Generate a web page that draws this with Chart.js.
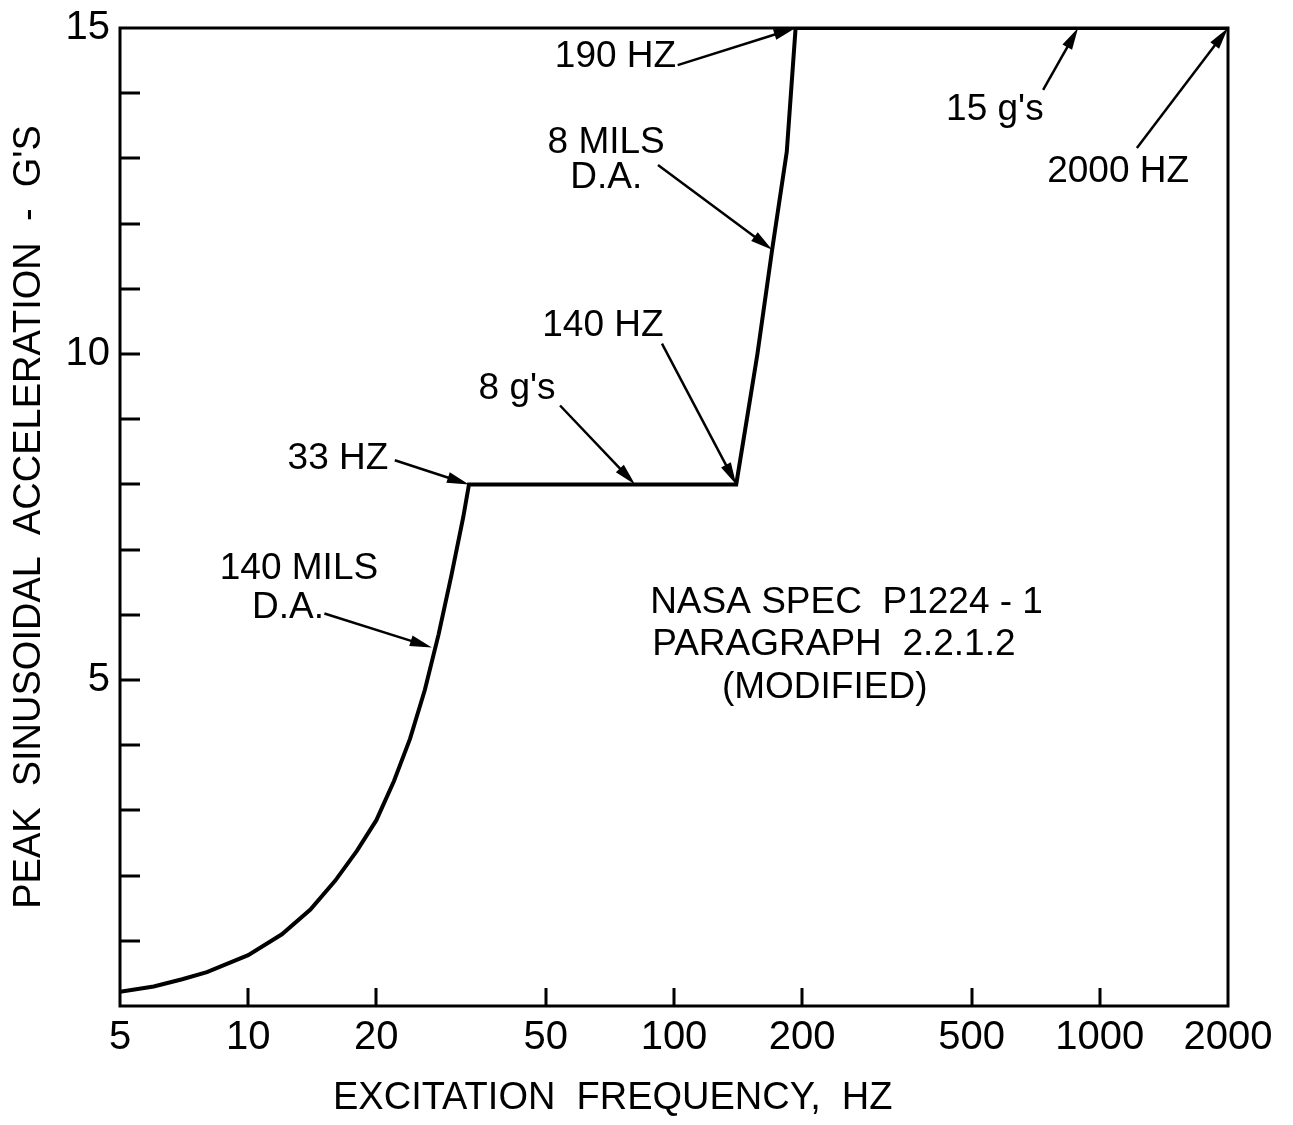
<!DOCTYPE html>
<html>
<head>
<meta charset="utf-8">
<script src="https://cdn.jsdelivr.net/npm/chart.js@4.4.1/dist/chart.umd.min.js"></script>
<style>
html,body{margin:0;padding:0;background:#fff;}
#wrap{width:1293px;height:1125px;position:relative;}
</style>
</head>
<body>
<div id="wrap"><canvas id="c"></canvas></div>
<script>
// ---- data ----
const freqHz  = [5, 6, 7, 8, 10, 12, 14, 16, 18, 20, 22, 24, 26, 28, 30, 32, 33, 140, 150, 157, 170, 184, 193, 2000];
const accelG  = [0.22, 0.30, 0.41, 0.52, 0.78, 1.10, 1.48, 1.92, 2.38, 2.85, 3.45, 4.10, 4.85, 5.70, 6.60, 7.50, 8.0, 8.0, 9.2, 10.0, 11.6, 13.1, 15.0, 15.0];
const xTickValues = [5, 10, 20, 50, 100, 200, 500, 1000, 2000];
const yTickValues = [1, 2, 3, 4, 5, 6, 7, 8, 9, 10, 11, 12, 13, 14];
const yLabelValues = [5, 10, 15];
const xTitle = 'EXCITATION  FREQUENCY,  HZ';
const yTitle = "PEAK  SINUSOIDAL  ACCELERATION  -  G'S";

// annotation texts (anchor in data units: frequency, g)
const noteTexts = [
  {t:'190 HZ',   f:52.5,  g:14.56, align:'left'},
  {t:'8 MILS',   f:69.3,  g:13.24, align:'center'},
  {t:'D.A.',     f:69.3,  g:12.70, align:'center'},
  {t:'140 HZ',   f:68.1,  g:10.44, align:'center'},
  {t:"8 g's",    f:42.8,  g:9.47,  align:'center'},
  {t:'33 HZ',    f:16.25, g:8.40,  align:'center'},
  {t:'140 MILS', f:13.16, g:6.71,  align:'center'},
  {t:'D.A.',     f:12.4,  g:6.10,  align:'center'},
  {t:'NASA SPEC  P1224 - 1', f:87.9, g:6.19, align:'left'},
  {t:'PARAGRAPH  2.2.1.2',   f:88.9, g:5.54, align:'left'},
  {t:'(MODIFIED)',           f:129.6, g:4.88, align:'left'},
  {t:"15 g's",   f:567,   g:13.74, align:'center'},
  {t:'2000 HZ',  f:1104,  g:12.79, align:'center'}
];
// arrows: tail (f0,g0) -> tip (f1,g1)
const noteArrows = [
  {f0:102,  g0:14.43, f1:193,  g1:15.0},
  {f0:91.7, g0:12.9,  f1:170,  g1:11.6},
  {f0:93.7, g0:10.16, f1:140,  g1:8.0},
  {f0:54,   g0:9.21,  f1:81,   g1:8.0},
  {f0:22.1, g0:8.37,  f1:33,   g1:8.0},
  {f0:15.1, g0:6.02,  f1:27,   g1:5.5},
  {f0:736,  g0:14.05, f1:889,  g1:15.0},
  {f0:1222, g0:13.16, f1:2000, g1:15.0}
];

const FONT = '"Liberation Sans", Arial, sans-serif';

const decorPlugin = {
  id: 'decor',
  afterDraw(chart) {
    const ctx = chart.ctx;
    const a = chart.chartArea;
    const xs = chart.scales.x, ys = chart.scales.y;
    ctx.save();
    ctx.strokeStyle = '#000';
    ctx.fillStyle = '#000';
    // frame
    ctx.lineWidth = 3;
    ctx.strokeRect(a.left, a.top, a.right - a.left, a.bottom - a.top);
    // inward ticks
    ctx.beginPath();
    yTickValues.forEach(v => {
      const y = Math.round(ys.getPixelForValue(v));
      ctx.moveTo(a.left, y); ctx.lineTo(a.left + 20, y);
    });
    xTickValues.forEach(v => {
      if (v === xs.min || v === xs.max) return;
      const x = Math.round(xs.getPixelForValue(v));
      ctx.moveTo(x, a.bottom); ctx.lineTo(x, a.bottom - 18);
    });
    ctx.stroke();
    // arrows
    noteArrows.forEach(n => {
      const x0 = xs.getPixelForValue(n.f0), y0 = ys.getPixelForValue(n.g0);
      const x1 = xs.getPixelForValue(n.f1), y1 = ys.getPixelForValue(n.g1);
      const ang = Math.atan2(y1 - y0, x1 - x0);
      const L = 22, W = 5.5;
      ctx.lineWidth = 2.5;
      ctx.beginPath();
      ctx.moveTo(x0, y0);
      ctx.lineTo(x1 - Math.cos(ang) * L * 0.8, y1 - Math.sin(ang) * L * 0.8);
      ctx.stroke();
      ctx.beginPath();
      ctx.moveTo(x1, y1);
      ctx.lineTo(x1 - Math.cos(ang) * L - Math.sin(ang) * W, y1 - Math.sin(ang) * L + Math.cos(ang) * W);
      ctx.lineTo(x1 - Math.cos(ang) * L + Math.sin(ang) * W, y1 - Math.sin(ang) * L - Math.cos(ang) * W);
      ctx.closePath();
      ctx.fill();
    });
    // texts
    ctx.font = '37px ' + FONT;
    ctx.textBaseline = 'middle';
    noteTexts.forEach(n => {
      ctx.textAlign = n.align;
      ctx.fillText(n.t, xs.getPixelForValue(n.f), ys.getPixelForValue(n.g));
    });
    // x axis title (set left of centre as in the original)
    ctx.font = '38px ' + FONT;
    ctx.textAlign = 'left';
    ctx.fillText(xTitle, a.left + 213, a.bottom + 93);
    ctx.restore();
  }
};

new Chart(document.getElementById('c'), {
  type: 'line',
  data: {
    datasets: [{
      data: freqHz.map((f, i) => ({x: f, y: accelG[i]})),
      borderColor: '#000',
      borderWidth: 4,
      pointRadius: 0,
      fill: false,
      tension: 0
    }]
  },
  options: {
    responsive: true,
    maintainAspectRatio: false,
    devicePixelRatio: 1,
    animation: false,
    layout: {padding: {top: 28, right: 65, left: 0, bottom: 0}},
    plugins: {legend: {display: false}, tooltip: {enabled: false}},
    scales: {
      x: {
        type: 'logarithmic',
        min: 5, max: 2000,
        afterBuildTicks: s => { s.ticks = xTickValues.map(v => ({value: v})); },
        afterFit: s => { s.height = 119; s.paddingLeft = 0; s.paddingRight = 0; s.paddingTop = 0; s.paddingBottom = 0; },
        grid: {display: false, drawTicks: false},
        border: {display: false},
        ticks: {
          autoSkip: false, maxRotation: 0, minRotation: 0, padding: 8,
          color: '#000', font: {family: FONT, size: 40},
          callback: v => String(v)
        },
        title: {display: false}
      },
      y: {
        type: 'linear',
        min: 0, max: 15,
        afterBuildTicks: s => { s.ticks = yLabelValues.map(v => ({value: v})); },
        afterFit: s => { s.width = 120; s.paddingTop = 0; s.paddingBottom = 0; s.paddingLeft = 0; s.paddingRight = 0; },
        grid: {display: false, drawTicks: false},
        border: {display: false},
        ticks: {
          padding: 10, color: '#000', font: {family: FONT, size: 40},
          callback: v => String(v)
        },
        title: {display: true, text: yTitle, color: '#000',
                font: {family: FONT, size: 38}, padding: {top: 7, bottom: 0}}
      }
    }
  },
  plugins: [decorPlugin]
});
</script>
</body>
</html>
